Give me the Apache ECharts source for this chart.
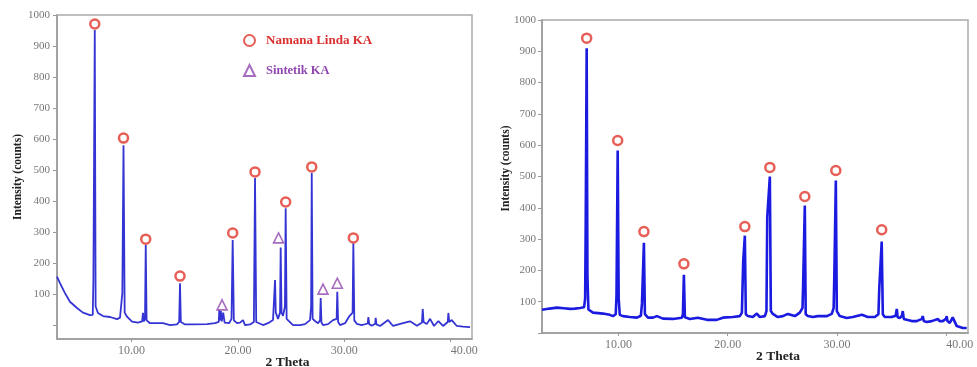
<!DOCTYPE html>
<html>
<head>
<meta charset="utf-8">
<script src="https://cdn.jsdelivr.net/npm/echarts@6/dist/echarts.min.js"></script>
<style>
html,body{margin:0;padding:0;background:#fff;}
#c{width:977px;height:367px;}
</style>
</head>
<body>
<div id="c"></div>
<script>
// ---------- DATA ----------
// Left panel: XRD pattern [2theta, counts]
var leftPattern = [
[3.0,156],[3.28,135],[3.75,103],[4.22,75],[4.88,55],[5.44,40],[6.1,32],[6.36,33],[6.42,145],[6.48,150],[6.55,952],[6.63,60],[6.85,39],[7.32,29],[7.98,26],[8.64,19],[8.92,24],[9.08,30],[9.14,103],[9.19,105],[9.25,580],[9.36,40],[9.58,27],[10.05,11],[10.61,8],[11.0,12],[11.08,39],[11.16,12],[11.27,20],[11.34,258],[11.42,15],[11.74,6],[12.4,6],[12.96,6],[13.62,0],[14.28,2],[14.48,10],[14.56,135],[14.64,10],[15.03,2],[15.78,2],[17.1,3],[17.85,6],[18.2,10],[18.25,48],[18.32,15],[18.4,45],[18.48,12],[18.62,40],[18.75,8],[19.17,6],[19.4,20],[19.51,274],[19.62,15],[19.92,6],[20.2,8],[20.48,16],[20.67,0],[21.14,2],[21.5,10],[21.61,474],[21.72,10],[21.89,6],[22.36,0],[22.83,6],[23.3,16],[23.44,20],[23.49,145],[23.56,40],[23.77,20],[23.96,40],[24.02,250],[24.1,40],[24.24,30],[24.42,60],[24.49,377],[24.58,20],[24.71,16],[25.18,0],[25.84,0],[26.31,3],[26.78,16],[26.88,60],[26.94,490],[27.02,20],[27.25,13],[27.53,6],[27.72,15],[27.78,87],[27.85,8],[28.0,0],[28.47,3],[28.94,16],[29.28,20],[29.34,107],[29.42,10],[29.6,0],[30.07,6],[30.44,27],[30.78,40],[30.85,264],[30.94,15],[31.17,4],[31.64,0],[32.2,5],[32.26,26],[32.34,3],[32.58,-2],[32.9,4],[32.95,23],[33.02,2],[33.36,-3],[34.11,16],[34.58,-3],[35.52,6],[36.18,12],[36.83,-2],[37.3,8],[37.37,52],[37.45,10],[37.75,3],[38.06,20],[38.43,-3],[38.84,13],[39.28,-3],[39.72,10],[39.78,39],[39.86,10],[40.1,16],[40.57,-3],[41.16,-5],[41.82,-7]
];
// Left panel markers
var leftNaturalPeaks = [[6.55,971],[9.25,603],[11.34,277],[14.56,158],[19.51,297],[21.61,494],[24.49,397],[26.94,510],[30.85,281]];
var leftSyntheticPeaks = [[18.51,65],[23.82,281],[28.0,116],[29.34,135]];

// Right panel: XRD pattern [2theta, counts]
var rightPattern = [
[3.0,74],[3.7,78],[4.37,81],[5.0,79],[5.56,77],[6.0,78],[6.48,80],[6.85,82],[6.95,110],[7.0,340],[7.04,345],[7.09,910],[7.16,180],[7.25,75],[7.67,65],[8.58,62],[9.2,58],[9.5,54],[9.75,60],[9.82,118],[9.88,120],[9.93,583],[10.02,110],[10.12,58],[10.41,54],[11.05,51],[11.69,49],[12.05,55],[12.15,93],[12.22,95],[12.33,288],[12.42,60],[12.7,49],[13.16,49],[13.52,54],[14.07,46],[14.99,45],[15.81,49],[15.9,60],[15.99,186],[16.08,50],[16.54,45],[17.27,49],[18.1,42],[19.0,42],[19.56,49],[20.47,51],[21.11,54],[21.3,65],[21.42,230],[21.48,232],[21.57,311],[21.66,60],[21.85,54],[22.3,51],[22.67,62],[22.94,51],[23.4,54],[23.55,70],[23.62,370],[23.7,372],[23.86,500],[23.95,70],[24.13,61],[24.59,51],[25.05,54],[25.51,61],[26.15,54],[26.6,65],[26.85,80],[26.9,145],[26.97,148],[27.06,407],[27.14,60],[27.34,54],[27.79,51],[28.25,54],[29.08,54],[29.53,61],[29.7,80],[29.76,180],[29.82,185],[29.9,487],[29.99,70],[30.26,54],[30.9,48],[31.45,51],[32.28,58],[32.83,51],[33.47,51],[33.8,60],[33.88,145],[33.95,148],[34.1,292],[34.2,60],[34.38,51],[35.02,51],[35.38,55],[35.48,77],[35.56,50],[35.75,48],[35.95,55],[36.03,70],[36.12,45],[36.39,42],[36.85,38],[37.31,38],[37.78,45],[37.86,54],[37.95,38],[38.22,35],[38.68,38],[39.25,45],[39.32,51],[39.4,38],[39.69,38],[40.0,46],[40.05,54],[40.12,38],[40.33,32],[40.6,50],[40.97,22],[41.52,16],[41.88,16]
];
var rightNaturalPeaks = [[7.09,942],[9.93,615],[12.33,324],[15.99,221],[21.57,340],[23.86,529],[27.06,436],[29.9,519],[34.1,330]];

// Axis ticks / labels
var xTickValues = [10, 20, 30, 40];
var yTickValues = [0,100,200,300,400,500,600,700,800,900,1000];
var yLabelValues = [100,200,300,400,500,600,700,800,900,1000];
var legendNames = ['Namana Linda KA', 'Sintetik KA'];

// ---------- CHART ----------
var SERIF = '"Liberation Serif","DejaVu Serif",serif';
var chart = echarts.init(document.getElementById('c'), null, {renderer:'canvas'});

function xAxisCfg(gi){
  return {
    type:'value', gridIndex:gi, min:3, max:42,
    name:'2 Theta', nameLocation:'middle', nameGap: 17, nameMoveOverlap:false,
    nameTextStyle:{fontFamily:SERIF, fontWeight:'bold', fontSize:13.5, color:'#222', padding:[0,0,0,46]},
    axisLine:{show:true, onZero:false, lineStyle:{color:'#999', width:1.5}},
    axisTick:{show:true, length:3, customValues:xTickValues, lineStyle:{color:'#999'}},
    axisLabel:{customValues:xTickValues, fontFamily:SERIF, fontSize:12, color:'#777', margin:6,
      alignMaxLabel:'left',
      formatter:function(v){return v.toFixed(2);}},
    splitLine:{show:false}
  };
}
function yAxisCfg(gi, mn){
  return {
    type:'value', gridIndex:gi, min:mn, max:1000,
    name:'Intensity (counts)', nameLocation:'middle', nameGap: gi===0 ? 33 : 30, nameMoveOverlap:false,
    nameTextStyle:{fontFamily:SERIF, fontWeight:'bold', fontSize:11.5, color:'#222',
      padding: gi===0 ? [0,0,0,0] : [0,0,0,16]},
    axisLine:{show:true, onZero:false, lineStyle:{color:'#999', width:1.5}},
    axisTick:{show:true, length:4, inside:false, customValues:yTickValues, lineStyle:{color:'#999'}},
    axisLabel:{customValues:yLabelValues, fontFamily:SERIF, fontSize:11, color:'#777', margin: gi===0 ? 7 : 6,
      formatter:function(v){return String(v);}},
    splitLine:{show:false}
  };
}

var circleStyle = {color:'#fff', borderColor:'#e0362c', borderWidth:2.5};
var triStyle = {color:'#fff', borderColor:'#9146b0', borderWidth:1.6};

chart.setOption({
  animation:false,
  backgroundColor:'#fff',
  grid:[
    {left:57, top:15, width:415, height:324, show:true, borderColor:'#aaa', borderWidth:1.5, outerBoundsMode:'none', containLabel:false},
    {left:542, top:20, width:426, height:313, show:true, borderColor:'#aaa', borderWidth:1.5, outerBoundsMode:'none', containLabel:false}
  ],
  xAxis:[xAxisCfg(0), xAxisCfg(1)],
  yAxis:[yAxisCfg(0,-45), yAxisCfg(1,0)],
  legend:{
    orient:'vertical', left:238, top:29, itemGap:17, itemWidth:11, itemHeight:11,
    data:[
      {name:legendNames[0], textStyle:{color:'#d9302f', fontSize:13}},
      {name:legendNames[1], textStyle:{color:'#9146b0', fontSize:12.5}}
    ],
    textStyle:{fontFamily:SERIF, fontWeight:'bold', fontSize:13, padding:[0,0,0,6]}
  },
  series:[
    {type:'line', name:'left', xAxisIndex:0, yAxisIndex:0, data:leftPattern, showSymbol:false, symbol:'none',
     lineStyle:{color:'#3434d4', width:1.8}, z:2},
    {type:'line', name:'right', xAxisIndex:1, yAxisIndex:1, data:rightPattern, showSymbol:false, symbol:'none',
     lineStyle:{color:'#1a1ae0', width:2.6}, z:2},
    {type:'scatter', name:legendNames[0], xAxisIndex:0, yAxisIndex:0, data:leftNaturalPeaks,
     symbol:'circle', symbolSize:9, itemStyle:circleStyle, z:5},
    {type:'scatter', name:legendNames[1], xAxisIndex:0, yAxisIndex:0, data:leftSyntheticPeaks,
     symbol:'triangle', symbolSize:10, itemStyle:triStyle, z:5},
    {type:'scatter', name:'right markers', xAxisIndex:1, yAxisIndex:1, data:rightNaturalPeaks,
     symbol:'circle', symbolSize:9, itemStyle:circleStyle, z:5}
  ]
});
</script>
</body>
</html>
